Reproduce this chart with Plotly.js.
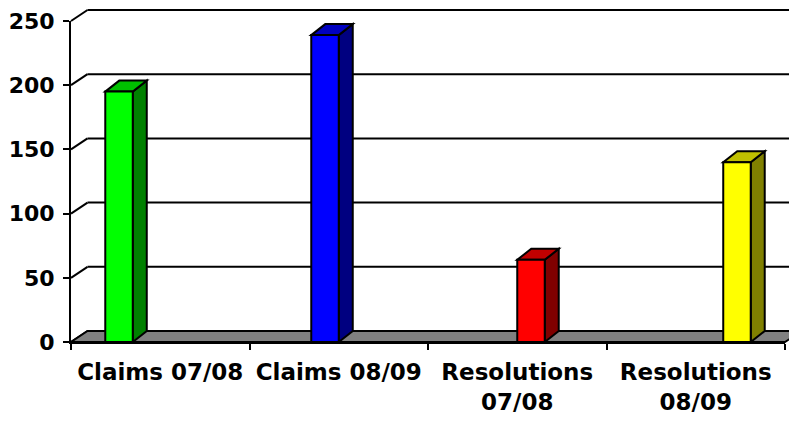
<!DOCTYPE html>
<html>
<head>
<meta charset="utf-8">
<script src="https://cdn.plot.ly/plotly-3.0.1.min.js"></script>
<style>
  html, body { margin: 0; padding: 0; background: #ffffff; }
  #chart { width: 789px; height: 421px; }
</style>
</head>
<body>
<div id="chart"></div>
<script>
// ---- data ----
const categories = ['Claims 07/08', 'Claims 08/09', 'Resolutions<br>07/08', 'Resolutions<br>08/09'];
const seriesNames = ['Claims 07/08', 'Claims 08/09', 'Resolutions 07/08', 'Resolutions 08/09'];
const values = [195, 239, 64, 140];
const yTicks = [0, 50, 100, 150, 200, 250];

// ---- styling ----
const frontColors = ['#00FF00', '#0000FF', '#FF0000', '#FFFF00'];
const sideColors  = ['#008000', '#000080', '#800000', '#808000'];
const topColors   = ['#00C000', '#0000C0', '#C00000', '#C0C000'];

const W = 789, H = 421;
const M = {l: 71, r: 4, t: 21, b: 79};
const plotW = W - M.l - M.r, plotH = H - M.t - M.b;
const yMax = 250;
const bargap = 0.384;
const nSeries = seriesNames.length;

// depth offsets in pixels
const wallDx = 16.5, wallDy = 11;
const barDx = 14, barDy = 11;

// px -> data / paper conversions
const xUnitsPerPx = categories.length / plotW;
const yUnitsPerPx = yMax / plotH;

const traces = seriesNames.map((name, k) => ({
  type: 'bar',
  name: name,
  x: categories,
  y: categories.map((c, i) => (i === k ? values[k] : null)),
  marker: { color: frontColors[k], line: { color: '#000000', width: 2 } },
  hoverinfo: 'x+y'
}));

const shapes = [];
const pdx = wallDx / plotW, pdy = wallDy / plotH;

// back-wall gridlines + left-wall diagonals
yTicks.forEach(v => {
  const yp = v / yMax;
  if (v > 0) {
    shapes.push({type: 'path', xref: 'paper', yref: 'paper', layer: 'below',
      path: `M ${pdx},${yp + pdy} L ${1 + pdx},${yp + pdy}`,
      line: {color: '#000000', width: 2}});
  }
  shapes.push({type: 'path', xref: 'paper', yref: 'paper', layer: 'below',
    path: `M 0,${yp} L ${pdx},${yp + pdy}`,
    line: {color: '#000000', width: 2}});
});

// floor
shapes.push({type: 'path', xref: 'paper', yref: 'paper', layer: 'below',
  path: `M 0,0 L 1,0 L ${1 + pdx},${pdy} L ${pdx},${pdy} Z`,
  fillcolor: '#808080', line: {color: '#000000', width: 2}});

// 3D faces of the bars
const bw = (1 - bargap) / nSeries;
const bdx = barDx * xUnitsPerPx, bdy = barDy * yUnitsPerPx;
values.forEach((v, k) => {
  const xl = k - (1 - bargap) / 2 + k * bw;
  const xr = xl + bw;
  shapes.push({type: 'path', xref: 'x', yref: 'y', layer: 'below',
    path: `M ${xr},0 L ${xr + bdx},${bdy} L ${xr + bdx},${v + bdy} L ${xr},${v} Z`,
    fillcolor: sideColors[k], line: {color: '#000000', width: 2}});
  shapes.push({type: 'path', xref: 'x', yref: 'y', layer: 'below',
    path: `M ${xl},${v} L ${xr},${v} L ${xr + bdx},${v + bdy} L ${xl + bdx},${v + bdy} Z`,
    fillcolor: topColors[k], line: {color: '#000000', width: 2}});
});

const font = {family: 'DejaVu Sans, Arial, sans-serif', color: '#000000', weight: 'bold'};

const layout = {
  width: W, height: H,
  margin: M,
  paper_bgcolor: '#ffffff',
  plot_bgcolor: 'rgba(0,0,0,0)',
  showlegend: false,
  barmode: 'group',
  bargap: bargap,
  bargroupgap: 0,
  xaxis: {
    type: 'category',
    range: [-0.5, categories.length - 0.5],
    showgrid: false, zeroline: false,
    showline: true, linecolor: '#000000', linewidth: 2,
    ticks: 'outside', tickson: 'boundaries', ticklen: 6, tickwidth: 2, tickcolor: '#000000',
    tickfont: Object.assign({size: 23}, font),
    ticklabelstandoff: 8,
    fixedrange: true
  },
  yaxis: {
    range: [0, yMax],
    tickvals: yTicks,
    showgrid: false, zeroline: false,
    showline: true, linecolor: '#000000', linewidth: 2,
    ticks: 'outside', ticklen: 6, tickwidth: 2, tickcolor: '#000000',
    tickfont: Object.assign({size: 22}, font),
    ticklabelstandoff: 4,
    fixedrange: true
  },
  shapes: shapes
};

Plotly.newPlot('chart', traces, layout, {displayModeBar: false, staticPlot: true});
</script>
</body>
</html>
